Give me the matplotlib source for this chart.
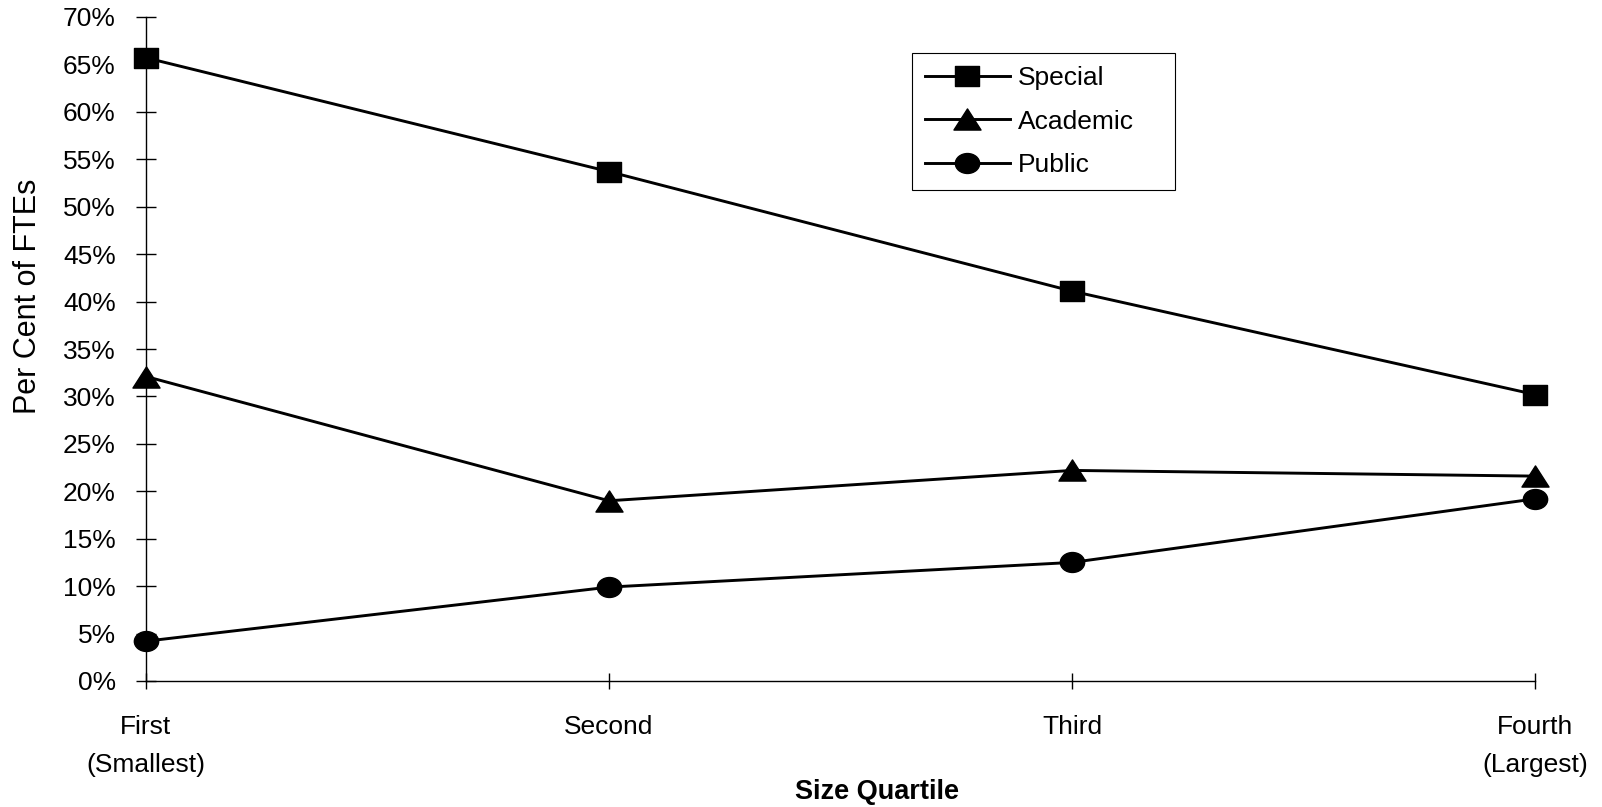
import matplotlib
matplotlib.use("Agg")
import matplotlib.pyplot as plt
from matplotlib.path import Path
from matplotlib.transforms import Affine2D

plt.rcParams['font.family'] = ['Liberation Sans', 'DejaVu Sans']

categories = ["First\n(Smallest)", "Second", "Third", "Fourth\n(Largest)"]
special = [65.7, 53.7, 41.1, 30.2]
academic = [32.1, 19.0, 22.2, 21.6]
public = [4.2, 9.9, 12.5, 19.2]
series_names = ["Special", "Academic", "Public"]
yticks = list(range(0, 75, 5))
ytick_labels = [f"{v}%" for v in yticks]

# markers (slightly wider than tall, like reference)
sq = Path([(-1, -0.8), (1, -0.8), (1, 0.8), (-1, 0.8), (-1, -0.8)],
          [Path.MOVETO, Path.LINETO, Path.LINETO, Path.LINETO, Path.CLOSEPOLY])
tri = Path([(0, 0.78), (-1, -0.78), (1, -0.78), (0, 0.78)],
           [Path.MOVETO, Path.LINETO, Path.LINETO, Path.CLOSEPOLY])
ell = Path.unit_circle().transformed(Affine2D().scale(1, 0.82))

fig = plt.figure(figsize=(16.02, 8.07), dpi=100)
ax = fig.add_axes([146/1602, 1-681/807, (1535-146)/1602, (681-17)/807])

x = list(range(len(categories)))
styles = [(special, sq, 17.5), (academic, tri, 19.5), (public, ell, 17.5)]
for (vals, mk, ms), name in zip(styles, series_names):
    ax.plot(x, vals, color='black', lw=2.1, marker=mk, markersize=ms,
            markerfacecolor='black', markeredgecolor='black', clip_on=False,
            label=name, zorder=3)

ax.set_xlim(0, 3)
ax.set_ylim(0, 70)
ax.set_yticks(yticks)
ax.set_yticklabels(ytick_labels, fontsize=19)
ax.set_xticks(x)
ax.set_xticklabels(categories, fontsize=19, linespacing=1.72)
ax.tick_params(axis='y', direction='inout', length=14.5, width=1, pad=14.5)
ax.tick_params(axis='x', direction='inout', length=11.5, width=1, pad=19)
for s in ['top', 'right']:
    ax.spines[s].set_visible(False)
for s in ['left', 'bottom']:
    ax.spines[s].set_linewidth(1)
    ax.spines[s].set_color('black')

fig.text(28/1602, 1-296/807, "Per Cent of FTEs", rotation=90, fontsize=22,
         ha='center', va='center')
fig.text(877/1602, 1-792/807, "Size Quartile", fontsize=19.5, fontweight='bold',
         ha='center', va='center')

bx0, bx1, by0, by1 = 912/1602, 1175/1602, 1-183/807, 1-53/807
leg = ax.legend(loc='upper left', bbox_to_anchor=(bx0, by0, bx1-bx0, by1-by0),
                bbox_transform=fig.transFigure, borderaxespad=0, mode='expand',
                fontsize=19, handlelength=3.2, handletextpad=0.3,
                labelspacing=0.74, borderpad=0.5, fancybox=False,
                frameon=True, framealpha=1)
leg.get_frame().set_edgecolor('black')
leg.get_frame().set_linewidth(0.8)

fig.savefig("out.png", dpi=100)
